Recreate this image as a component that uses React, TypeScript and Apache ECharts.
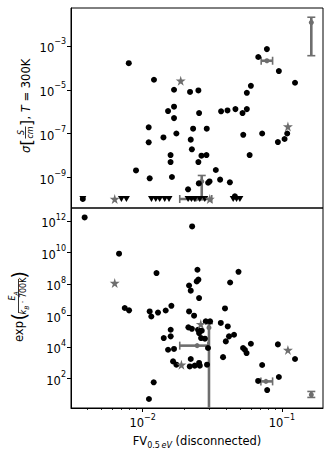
import React, { useEffect, useRef } from "react";
import * as echarts from "echarts";

// ---- axis extents (log10 space) ----
const X_MIN = -2.515;
const X_MAX = -0.705;
const TOP_Y_MIN = -10.38;
const TOP_Y_MAX = -1.28;
const BOT_Y_MIN = 0.14;
const BOT_Y_MAX = 12.84;

// ---- tick values (log10 exponents) ----
const xMajorTicks = [-2, -1];
const xMinorMultipliers = [0.004, 0.005, 0.006, 0.007, 0.008, 0.009, 0.02, 0.03, 0.04, 0.05, 0.06, 0.07, 0.08, 0.09];
const topYTicks = [-9, -7, -5, -3];
const botYTicks = [2, 4, 6, 8, 10, 12];

// ---- top panel: conductivity (log10 values) ----
const topCircleX = [-2.10, -1.919, -1.775, -1.66, -1.60, -1.818, -1.775, -1.775, -1.957, -1.851, -1.758, -1.638, -1.957, -1.655, -1.647, -1.80, -1.80, -2.048, -1.95, -1.79, -1.674, -1.597, -1.595, -1.54, -1.578, -1.542, -1.60, -1.475, -1.444, -1.374, -1.53, -1.52, -1.437, -1.391, -1.334, -1.283, -1.252, -1.252, -1.223, -1.278, -1.232, -1.142, -1.17, -1.108, -1.022, -0.906, -1.029, -0.981, -0.962, -1.338, -2.43];
const topCircleY = [-3.79, -4.545, -5.00, -5.10, -5.03, -5.97, -5.77, -6.29, -6.71, -7.17, -6.99, -6.77, -7.39, -7.27, -7.71, -7.97, -8.29, -8.67, -9.03, -8.97, -9.53, -9.26, -6.06, -6.77, -8.00, -7.97, -8.29, -8.65, -9.09, -9.21, -9.23, -9.17, -5.98, -5.94, -5.88, -6.06, -5.88, -5.14, -4.82, -7.05, -7.97, -6.99, -3.51, -3.15, -4.15, -4.68, -7.38, -7.24, -6.99, -9.85, -9.97];
const topTriangleX = [-2.43, -2.153, -2.117, -1.937, -1.906, -1.878, -1.842, -1.811, -1.674, -1.650, -1.626, -1.590, -1.554, -1.350, -1.326, -1.302];
const topTriangleY = [-9.97, -9.97, -9.97, -9.97, -9.97, -9.97, -9.97, -9.97, -9.97, -9.97, -9.97, -9.97, -9.97, -9.97, -9.97, -9.97];
const topStarX = [-1.727, -0.957, -2.201, -1.518];
const topStarY = [-4.59, -6.67, -9.97, -9.97];
const topErrX = [-1.576, -1.108, -0.789, -1.62];
const topErrY = [-9.17, -3.68, -1.94, -9.97];
const topErrXLo = [-1.576, -1.149, -0.789, -1.734];
const topErrXHi = [-1.576, -1.067, -0.789, -1.504];
const topErrYLo = [-10.0, -3.68, -3.45, -9.97];
const topErrYHi = [-8.90, -3.68, -1.70, -9.97];

// ---- bottom panel: exp(Ea / kB 700K) (log10 values) ----
const botCircleX = [-2.417, -2.17, -2.129, -2.098, -1.901, -1.950, -1.938, -1.890, -1.835, -1.794, -1.849, -1.799, -1.799, -1.921, -1.955, -1.818, -1.775, -1.782, -1.758, -1.645, -1.607, -1.612, -1.600, -1.667, -1.655, -1.595, -1.312, -1.372, -1.409, -1.667, -1.631, -1.672, -1.647, -1.603, -1.595, -1.576, -1.547, -1.516, -1.439, -1.389, -1.581, -1.553, -1.531, -1.380, -1.344, -1.403, -1.655, -1.662, -1.626, -1.595, -1.590, -1.538, -1.423, -1.279, -1.254, -1.266, -1.223, -1.142, -1.029, -0.906, -1.022, -1.171, -1.106];
const botCircleY = [12.24, 9.94, 6.49, 6.34, 8.71, 6.27, 5.95, 6.20, 6.33, 6.63, 4.58, 5.11, 4.69, 1.77, 0.71, 3.84, 3.89, 3.10, 2.89, 11.67, 8.92, 8.18, 8.29, 7.92, 7.59, 7.12, 8.79, 8.11, 6.46, 6.27, 6.00, 5.26, 5.17, 5.11, 4.90, 5.05, 5.64, 5.64, 5.54, 5.32, 4.58, 4.54, 3.95, 4.69, 4.79, 4.37, 3.25, 2.78, 2.83, 3.00, 2.83, 2.89, 3.37, 3.95, 3.63, 3.84, 4.22, 2.87, 4.18, 3.25, 2.11, 1.86, 1.28];
const botStarX = [-2.201, -1.583, -1.722, -0.957];
const botStarY = [8.08, 5.47, 2.89, 3.83];
const botErrX = [-1.524, -1.609, -1.115, -0.789];
const botErrY = [5.24, 4.10, 1.83, 0.98];
const botErrXLo = [-1.524, -1.734, -1.151, -0.789];
const botErrXHi = [-1.524, -1.532, -1.067, -0.789];
const botErrYLo = [-1.0, 4.10, 1.83, 0.81];
const botErrYHi = [5.50, 4.10, 1.83, 1.19];

const FONT = "DejaVu Sans";
const GRAY = "#6e6e6e";
const STAR = "path://M50,0 L61,35 L98,35 L68,57 L79,91 L50,70 L21,91 L32,57 L2,35 L39,35 Z";
const TRI = "path://M0,0 L10,0 L5,9 Z";

const zip = (a: number[], b: number[]) => a.map((v, i) => [v, b[i]]);
const errData = (x: number[], y: number[], xl: number[], xh: number[], yl: number[], yh: number[]) =>
  x.map((v, i) => [v, y[i], xl[i], xh[i], yl[i], yh[i]]);

function renderErr(_params: any, api: any) {
  const y = api.value(1);
  const x = api.value(0);
  const xlo = api.value(2), xhi = api.value(3), ylo = api.value(4), yhi = api.value(5);
  const kids: any[] = [];
  const main = { stroke: GRAY, lineWidth: 2.6 };
  const capS = { stroke: GRAY, lineWidth: 1.6 };
  const cap = 4;
  if (xhi > xlo) {
    const a = api.coord([xlo, y]);
    const b = api.coord([xhi, y]);
    kids.push({ type: "line", shape: { x1: a[0], y1: a[1], x2: b[0], y2: b[1] }, style: main });
    kids.push({ type: "line", shape: { x1: a[0], y1: a[1] - cap, x2: a[0], y2: a[1] + cap }, style: capS });
    kids.push({ type: "line", shape: { x1: b[0], y1: b[1] - cap, x2: b[0], y2: b[1] + cap }, style: capS });
  }
  if (yhi > ylo) {
    const a = api.coord([x, ylo]);
    const b = api.coord([x, yhi]);
    kids.push({ type: "line", shape: { x1: a[0], y1: a[1], x2: b[0], y2: b[1] }, style: main });
    kids.push({ type: "line", shape: { x1: a[0] - cap, y1: a[1], x2: a[0] + cap, y2: a[1] }, style: capS });
    kids.push({ type: "line", shape: { x1: b[0] - cap, y1: b[1], x2: b[0] + cap, y2: b[1] }, style: capS });
  }
  return { type: "group", children: kids };
}

const powRich = {
  b: { fontSize: 11.5, fontFamily: FONT, color: "#000", lineHeight: 16, verticalAlign: "bottom" },
  s: { fontSize: 8, fontFamily: FONT, color: "#000", lineHeight: 9, verticalAlign: "top" },
};
const powFmt = (v: number) => {
  const n = Math.round(v);
  return `{b|10}{s|${n < 0 ? "\u2212" : ""}${Math.abs(n)}}`;
};

export default function App() {
  const ref = useRef<HTMLDivElement>(null);
  useEffect(() => {
    if (!ref.current) return;
    const chart = echarts.init(ref.current, undefined, { renderer: "svg" });
    const xMinor = xMinorMultipliers.map((m) => Math.log10(m));
    const gridCommon = { left: 71, right: 9, height: 200, show: true, borderColor: "#000", borderWidth: 1, backgroundColor: "transparent" };
    const scatterBase = (xi: number, data: number[][], symbol: string, size: any, color: string, z: number) => ({
      type: "scatter",
      xAxisIndex: xi,
      yAxisIndex: xi === 0 ? 0 : 1,
      data,
      symbol,
      symbolSize: size,
      itemStyle: { color, opacity: 1 },
      z,
      silent: true,
    });
    const option: any = {
      animation: false,
      grid: [
        { ...gridCommon, top: 8 },
        { ...gridCommon, top: 208 },
      ],
      xAxis: [
        {
          gridIndex: 0, type: "value", min: X_MIN, max: X_MAX,
          axisLine: { show: false }, axisTick: { show: false }, axisLabel: { show: false }, splitLine: { show: false },
        },
        {
          gridIndex: 1, type: "value", min: X_MIN, max: X_MAX, position: "bottom",
          axisLine: { show: true, lineStyle: { color: "#000", width: 1 } },
          axisTick: { show: true, customValues: xMajorTicks, length: 4, lineStyle: { color: "#000", width: 1 } },
          axisLabel: { show: true, customValues: xMajorTicks, formatter: powFmt, rich: powRich, margin: 5 },
          splitLine: { show: false },
        },
        {
          gridIndex: 1, type: "value", min: X_MIN, max: X_MAX, position: "bottom",
          axisLine: { show: false },
          axisTick: { show: true, customValues: xMinor, length: 2, lineStyle: { color: "#000", width: 0.8 } },
          axisLabel: { show: false },
          splitLine: { show: false },
        },
      ],
      yAxis: [
        {
          gridIndex: 0, type: "value", min: TOP_Y_MIN, max: TOP_Y_MAX,
          axisLine: { show: true, lineStyle: { color: "#000", width: 1 } },
          axisTick: { show: true, customValues: topYTicks, length: 4, lineStyle: { color: "#000", width: 1 } },
          axisLabel: { show: true, customValues: topYTicks, formatter: powFmt, rich: powRich, margin: 5 },
          splitLine: { show: false },
        },
        {
          gridIndex: 1, type: "value", min: BOT_Y_MIN, max: BOT_Y_MAX,
          axisLine: { show: true, lineStyle: { color: "#000", width: 1 } },
          axisTick: { show: true, customValues: botYTicks, length: 4, lineStyle: { color: "#000", width: 1 } },
          axisLabel: { show: true, customValues: botYTicks, formatter: powFmt, rich: powRich, margin: 5 },
          splitLine: { show: false },
        },
      ],
      series: [
        {
          type: "custom", xAxisIndex: 0, yAxisIndex: 0, renderItem: renderErr, clip: true, z: 1, silent: true,
          encode: { x: 0, y: 1 },
          data: errData(topErrX, topErrY, topErrXLo, topErrXHi, topErrYLo, topErrYHi),
        },
        scatterBase(0, zip(topErrX, topErrY), "circle", 5, GRAY, 2),
        scatterBase(0, zip(topCircleX, topCircleY), "circle", 6, "#000", 3),
        scatterBase(0, zip(topTriangleX, topTriangleY), TRI, [7, 6], "#000", 3),
        scatterBase(0, zip(topStarX, topStarY), STAR, 10, GRAY, 4),
        {
          type: "custom", xAxisIndex: 1, yAxisIndex: 1, renderItem: renderErr, clip: true, z: 1, silent: true,
          encode: { x: 0, y: 1 },
          data: errData(botErrX, botErrY, botErrXLo, botErrXHi, botErrYLo, botErrYHi),
        },
        scatterBase(1, zip(botErrX, botErrY), "circle", 5, GRAY, 2),
        scatterBase(1, zip(botCircleX, botCircleY), "circle", 6, "#000", 3),
        scatterBase(1, zip(botStarX, botStarY), STAR, 10, GRAY, 4),
      ],
      graphic: [
        // x axis title
        {
          type: "text", x: 197, y: 442, silent: true,
          style: {
            text: "{n|FV}{s|0.5\u2009}{si|eV}{n| (disconnected)}",
            align: "center", verticalAlign: "middle",
            rich: {
              n: { fontSize: 11.5, fontFamily: FONT, fill: "#000", lineHeight: 14, verticalAlign: "top" },
              s: { fontSize: 8, fontFamily: FONT, fill: "#000", lineHeight: 8, verticalAlign: "bottom" },
              si: { fontSize: 8, fontFamily: FONT, fontStyle: "italic", fill: "#000", lineHeight: 8, verticalAlign: "bottom" },
            },
          },
        },
        // top y title: sigma [S/cm], T = 300K
        {
          type: "group", x: 26, y: 103, rotation: Math.PI / 2, silent: true,
          children: [
            { type: "text", x: -50, y: 0, style: { text: "\u03c3", fontSize: 11.5, fontFamily: FONT, fontStyle: "italic", fill: "#000", align: "left", verticalAlign: "middle" } },
            { type: "text", x: -42.5, y: 0, style: { text: "[", fontSize: 16, fontFamily: FONT, fill: "#000", align: "left", verticalAlign: "middle" } },
            { type: "text", x: -29.5, y: -5, style: { text: "S", fontSize: 8, fontFamily: FONT, fontStyle: "italic", fill: "#000", align: "center", verticalAlign: "middle" } },
            { type: "line", shape: { x1: -35.5, y1: -0.5, x2: -23.5, y2: -0.5 }, style: { stroke: "#000", lineWidth: 0.8 } },
            { type: "text", x: -29.5, y: 4.5, style: { text: "cm", fontSize: 8, fontFamily: FONT, fontStyle: "italic", fill: "#000", align: "center", verticalAlign: "middle" } },
            { type: "text", x: -23, y: 0, style: { text: "]", fontSize: 16, fontFamily: FONT, fill: "#000", align: "left", verticalAlign: "middle" } },
            {
              type: "text", x: -16.5, y: 0,
              style: {
                text: "{n|, }{i|T}{n| = 300K}", align: "left", verticalAlign: "middle",
                rich: {
                  n: { fontSize: 11.5, fontFamily: FONT, fill: "#000" },
                  i: { fontSize: 11.5, fontFamily: FONT, fontStyle: "italic", fill: "#000" },
                },
              },
            },
          ],
        },
        // bottom y title: exp(E_A / k_B . 700K)
        {
          type: "group", x: 19, y: 303, rotation: Math.PI / 2, silent: true,
          children: [
            { type: "text", x: -39, y: 0, style: { text: "exp", fontSize: 11.5, fontFamily: FONT, fill: "#000", align: "left", verticalAlign: "middle" } },
            { type: "text", x: -17.5, y: 0, style: { text: "(", fontSize: 19, fontFamily: FONT, fill: "#000", align: "left", verticalAlign: "middle" } },
            {
              type: "text", x: 7, y: -5.5,
              style: {
                text: "{i|E}{sub|A}", align: "center", verticalAlign: "middle",
                rich: {
                  i: { fontSize: 8, fontFamily: FONT, fontStyle: "italic", fill: "#000", lineHeight: 10, verticalAlign: "top" },
                  sub: { fontSize: 6, fontFamily: FONT, fontStyle: "italic", fill: "#000", lineHeight: 6, verticalAlign: "bottom" },
                },
              },
            },
            { type: "line", shape: { x1: -10, y1: -0.5, x2: 24, y2: -0.5 }, style: { stroke: "#000", lineWidth: 0.8 } },
            {
              type: "text", x: 7, y: 5.5,
              style: {
                text: "{i|k}{sub|B}{n| \u00b7 700K}", align: "center", verticalAlign: "middle",
                rich: {
                  i: { fontSize: 8, fontFamily: FONT, fontStyle: "italic", fill: "#000", lineHeight: 10, verticalAlign: "top" },
                  sub: { fontSize: 6, fontFamily: FONT, fontStyle: "italic", fill: "#000", lineHeight: 6, verticalAlign: "bottom" },
                  n: { fontSize: 8, fontFamily: FONT, fill: "#000", lineHeight: 10, verticalAlign: "top" },
                },
              },
            },
            { type: "text", x: 24.5, y: 0, style: { text: ")", fontSize: 19, fontFamily: FONT, fill: "#000", align: "left", verticalAlign: "middle" } },
          ],
        },
      ],
    };
    chart.setOption(option);
    return () => chart.dispose();
  }, []);
  return (
    <div
      ref={ref}
      style={{ position: "fixed", left: 0, top: 0, width: 332, height: 456, background: "#fff" }}
    />
  );
}
